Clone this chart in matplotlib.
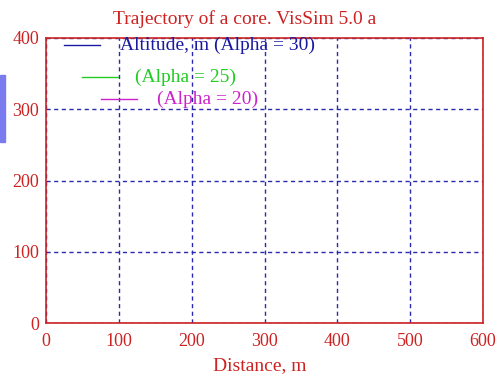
import matplotlib
matplotlib.use("Agg")
import matplotlib.pyplot as plt
from matplotlib.lines import Line2D

title = "Trajectory of a core. VisSim 5.0 a"
xlabel = "Distance, m"
xticks = [0, 100, 200, 300, 400, 500, 600]
yticks = [0, 100, 200, 300, 400]
series_labels = ["Altitude, m (Alpha = 30)", "(Alpha = 25)", "(Alpha = 20)"]
series_colors = ["#1a1aa0", "#22cc22", "#cc22cc"]
# No trajectory data visible in the reference
series_x = [[], [], []]
series_y = [[], [], []]

plt.rcParams['font.family'] = ['Liberation Serif', 'DejaVu Serif']
red = "#cc2222"
fs = 13

fig = plt.figure(figsize=(4.97, 3.74), dpi=100)
ax = fig.add_axes([46/497, 1-323/374, (483-46)/497, (323-38)/374])
for xs, ys, c in zip(series_x, series_y, series_colors):
    ax.plot(xs, ys, color=c)
ax.set_xlim(0, 600)
ax.set_ylim(0, 400)
ax.set_xticks(xticks)
ax.set_yticks(yticks)
ax.grid(True, color="#2a2ab0", linestyle=(0, (3, 2.5)), linewidth=1.0)
for s in ax.spines.values():
    s.set_color(red)
    s.set_linewidth(1.2)
ax.tick_params(axis='x', length=0, colors=red, labelsize=fs, pad=7)
ax.tick_params(axis='y', length=0, colors=red, labelsize=fs, pad=5)
fig.text(245/497, 1-19/374, title, color=red, fontsize=14, ha='center', va='center')
fig.text(260/497, 1-366/374, xlabel, color=red, fontsize=14, ha='center', va='center')

# legend entries drawn inside the axes area
legend_pos = [(64, 45, 120), (82, 77, 135), (101, 99, 157)]
for (x0, yy, tx), lab, c in zip(legend_pos, series_labels, series_colors):
    fx0 = x0/497; fx1 = (x0+36)/497; fy = 1-yy/374
    fig.add_artist(Line2D([fx0, fx1], [fy, fy], color=c, lw=1.0))
    fig.text(tx/497, fy, lab, color=c, fontsize=14, va='center', ha='left')

# left blue marker bar
fig.patches.append(plt.Rectangle((0, 1-142/374), 5/497, 67/374, transform=fig.transFigure,
                                 color="#7b7bf0", zorder=5))

fig.savefig("out.png", dpi=100)
